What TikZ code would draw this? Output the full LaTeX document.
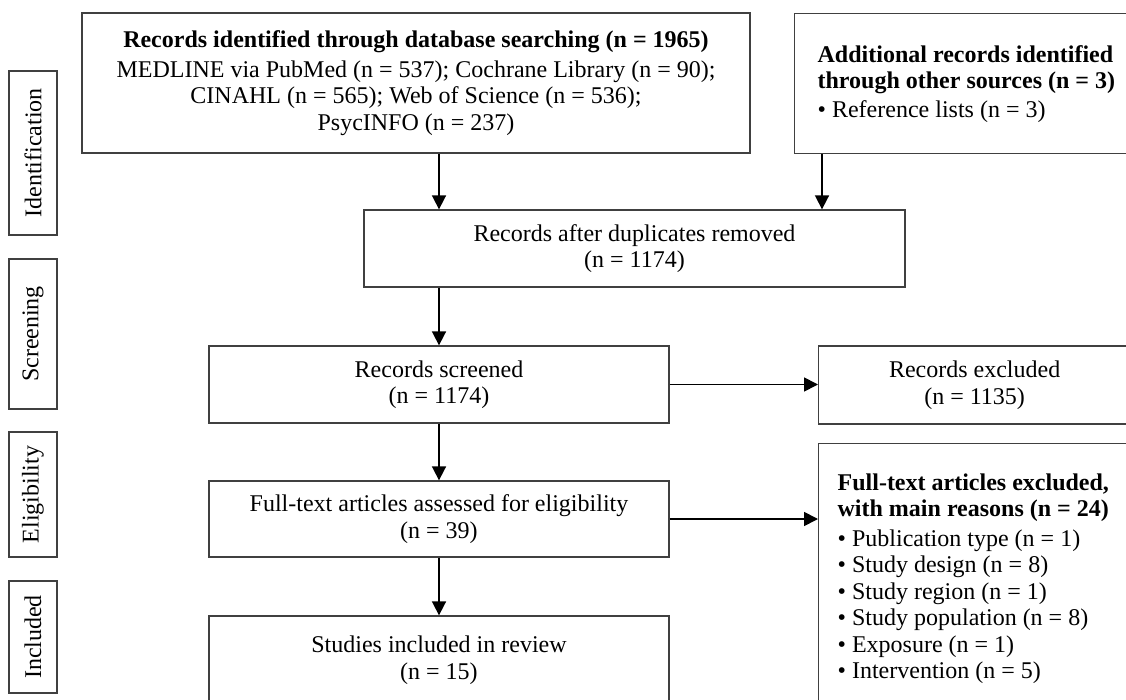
\documentclass[tikz,border=0pt]{standalone}
\usepackage{fontspec}
\setmainfont{Liberation Serif}
\usetikzlibrary{arrows.meta}

\begin{document}
\begin{tikzpicture}[x=1pt, y=-1pt,
    every node/.style={font=\fontsize{24}{26.5}\selectfont},
    box/.style={draw=black!75, line width=1.3pt, align=center, inner sep=0pt},
    stage/.style={box, rotate=90, minimum height=48pt},
    flow/.style={-{Triangle[length=14pt, width=14pt]}, line width=1.7pt}]
    \useasboundingbox (0,0) rectangle (1126,700);
    \clip (0,0) rectangle (1126,700);
    \node[stage, minimum width=164pt] (ident) at (33,153) {Identification};
    \node[stage, minimum width=150pt] (scr) at (33,334) {Screening};
    \node[stage, minimum width=125pt] (elig) at (33,494.5) {Eligibility};
    \node[stage, minimum width=112pt] (inc) at (33,637) {Included};
    \node[box, minimum width=668pt, minimum height=140pt] (db) at (416,83) {\textbf{Records identified through database searching (n = 1965)}\\[3pt]
        MEDLINE via PubMed (n = 537); Cochrane Library (n = 90);\\
        CINAHL (n = 565); Web of Science (n = 536);\\
        PsycINFO (n = 237)};
    \node[box, anchor=north west, minimum width=346pt, minimum height=140pt, text width=300pt, align=flush left] (other) at (794,13) {\textbf{Additional records identified}\\
        \textbf{through other sources (n = 3)}\\[2pt]
        \textbullet{} Reference lists (n = 3)};
    \node[box, minimum width=541pt, minimum height=77pt] (dup) at (634.5,248.5) {Records after duplicates removed\\(n = 1174)};
    \node[box, minimum width=460pt, minimum height=77pt] (screen) at (439,384.5) {Records screened\\(n = 1174)};
    \node[box, anchor=west, minimum width=312pt, minimum height=78pt] (recex) at (818,385) {Records excluded\\(n = 1135)};
    \node[box, minimum width=460pt, minimum height=76pt] (full) at (439,519) {Full-text articles assessed for eligibility\\(n = 39)};
    \node[box, anchor=north west, minimum width=330pt, minimum height=270pt, text width=292pt, align=flush left] (fullex) at (818,443) {\textbf{Full-text articles excluded,}\\
        \textbf{with main reasons (n = 24)}\\[3pt]
        \textbullet{} Publication type (n = 1)\\
        \textbullet{} Study design (n = 8)\\
        \textbullet{} Study region (n = 1)\\
        \textbullet{} Study population (n = 8)\\
        \textbullet{} Exposure (n = 1)\\
        \textbullet{} Intervention (n = 5)};
    \node[box, minimum width=460pt, minimum height=88pt] (incl) at (439,660) {Studies included in review\\(n = 15)};
    \draw[flow] (screen.north |- db.south) -- (screen.north |- dup.north);
    \draw[flow] ([xshift=28pt]other.south west) -- ([xshift=28pt]other.south west |- dup.north);
    \draw[flow] (screen.north |- dup.south) -- (screen.north);
    \draw[flow] (screen.east) -- (screen.east -| recex.west);
    \draw[flow] (screen) -- (full);
    \draw[flow] (full.east) -- (full.east -| fullex.west);
    \draw[flow] (full) -- (incl);
\end{tikzpicture}
\end{document}
